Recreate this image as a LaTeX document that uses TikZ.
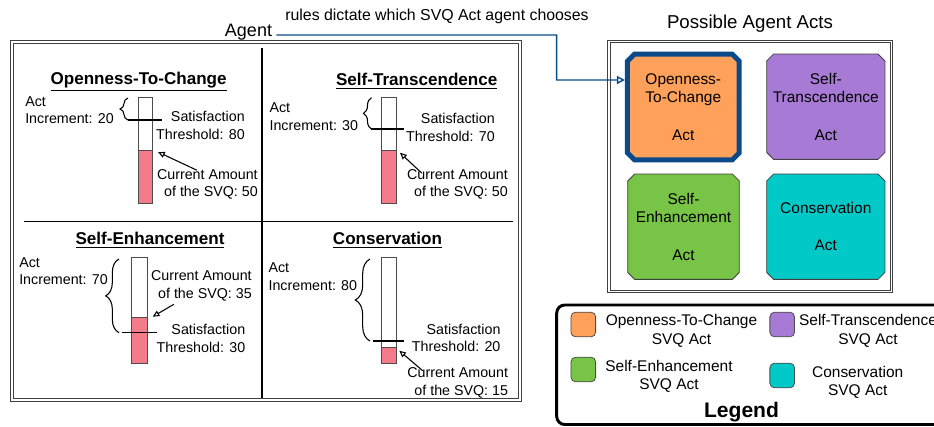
\documentclass[tikz,border=0pt]{standalone}
\usepackage{fontspec}
\setmainfont{Liberation Sans}
\usetikzlibrary{arrows.meta,decorations.pathreplacing,shapes.misc,calc}
\definecolor{orangeF}{HTML}{FFA15A}
\definecolor{purpleF}{HTML}{A77BD5}
\definecolor{greenF}{HTML}{78C446}
\definecolor{tealF}{HTML}{00C9C8}
\definecolor{pinkF}{HTML}{F47B8A}
\definecolor{blueF}{HTML}{0A4A8A}
\begin{document}
\begin{tikzpicture}[x=0.75pt,y=-0.75pt,
  qtxt/.style={inner sep=0pt,font=\fontsize{10.7}{13.1}\selectfont},
  qtitle/.style={inner sep=0pt,font=\bfseries\fontsize{12.8}{15}\selectfont},
  frame/.style={draw=black!75,line width=0.6pt},
  barbox/.style={draw=black!70,line width=0.6pt,fill=white},
  barfill/.style={draw=black!70,line width=0.6pt,fill=pinkF},
  thr/.style={draw=black,line width=0.8pt},
  brc/.style={decorate,decoration={brace,amplitude=#1},line width=0.8pt},
  ptr/.style={-{Triangle[open,length=5pt,width=4.5pt]},line width=0.8pt},
  act/.style={chamfered rectangle,chamfered rectangle xsep=2.6pt,chamfered rectangle ysep=2.6pt,
    draw=black!75,line width=0.6pt,inner sep=0pt,align=center,font=\fontsize{11.6}{14}\selectfont},
  swatch/.style={draw=black!70,line width=0.6pt,rounded corners=3.5pt,minimum size=18.5pt,inner sep=0pt},
  ltxt/.style={inner sep=0pt,align=center,font=\fontsize{11.6}{13.8}\selectfont},
  bline/.style={draw=blueF,line width=1.1pt}
]
\useasboundingbox (0,0) rectangle (934,426);

% ---------- left big frame ----------
\draw[frame] (10,40.5) rectangle (521,401);
\draw[frame] (13,43.3) rectangle (518.3,398.3);
\draw[thr,line width=0.9pt] (262,48) -- (262,398.3);
\draw[thr,line width=0.9pt] (24,221.7) -- (513,221.7);

% ---------- Agent ----------
\node[inner sep=3pt,font=\fontsize{13.5}{16}\selectfont] (agent) at (248.5,31.7) {Agent};
\node[inner sep=0pt,font=\fontsize{11.9}{14}\selectfont] (rules) at (437,16.7) {rules dictate which SVQ Act agent chooses};

% ---------- Quadrant 1 ----------
\node[qtitle] (t1) at (138.6,81.7) {\underline{Openness-To-Change}};
\node[qtxt,anchor=west,align=left] (ai1) at (25,110) {Act\\Increment: 20};
\draw[barbox] (138.3,97.7) rectangle (152.7,203.3);
\draw[barfill] (138.3,150.7) rectangle (152.7,203.3);
\coordinate (h1) at (158,152);
\draw[thr] (128,120) -- (162,120);
\draw[brc=6pt] (128,120) -- (128,98);
\node[qtxt,anchor=east,align=right] (s1) at (245,125.5) {Satisfaction\\Threshold: 80};
\node[qtxt,anchor=east,align=right] (c1) at (258,184.5) {Current Amount\\of the SVQ: 50};
\draw[ptr] ($(c1.north west)+(40,1)$) -- (h1);

% ---------- Quadrant 2 ----------
\node[qtitle] (t2) at (416.7,81) {\underline{Self-Transcendence}};
\node[qtxt,anchor=west,align=left] (ai2) at (269.3,116.5) {Act\\Increment: 30};
\draw[barbox] (381.7,97.7) rectangle (396,203.3);
\draw[barfill] (381.7,150.7) rectangle (396,203.3);
\coordinate (h2) at (400,152.7);
\draw[thr] (371,129) -- (404,129);
\draw[brc=6pt] (371.5,129) -- (371.5,97.7);
\node[qtxt,anchor=east,align=right] (s2) at (495,127.5) {Satisfaction\\Threshold: 70};
\node[qtxt,anchor=east,align=right] (c2) at (508,184.5) {Current Amount\\of the SVQ: 50};
\draw[ptr] ($(c2.north west)+(15,4)$) -- (h2);

% ---------- Quadrant 3 ----------
\node[qtitle] (t3) at (150,240) {\underline{Self-Enhancement}};
\node[qtxt,anchor=west,align=left] (ai3) at (19,271) {Act\\Increment: 70};
\draw[barbox] (131.7,257.3) rectangle (147.3,363.3);
\draw[barfill] (131.7,317.3) rectangle (147.3,363.3);
\coordinate (h3) at (152.7,316.7);
\draw[thr] (121.7,332.7) -- (156.7,332.7);
\draw[brc=10pt] (119,332.7) -- (119,259);
\node[qtxt,anchor=east,align=right] (c3) at (252,286) {Current Amount\\of the SVQ: 35};
\node[qtxt,anchor=east,align=right] (s3) at (245.5,338.3) {Satisfaction\\Threshold: 30};
\draw[ptr] ($(c3.south west)+(23,3)$) -- (h3);

% ---------- Quadrant 4 ----------
\node[qtitle] (t4) at (387.5,240) {\underline{Conservation}};
\node[qtxt,anchor=west,align=left] (ai4) at (268.3,276.7) {Act\\Increment: 80};
\draw[barbox] (381,257.3) rectangle (396,363.3);
\draw[barfill] (381,347.7) rectangle (396,363.3);
\coordinate (h4) at (399.3,350.7);
\draw[thr] (372.7,341) -- (404,341);
\draw[brc=11pt] (370,341) -- (370,259);
\node[qtxt,anchor=east,align=right] (s4) at (500.7,337.7) {Satisfaction\\Threshold: 20};
\node[qtxt,anchor=east,align=right] (c4) at (508.3,383) {Current Amount\\of the SVQ: 15};
\draw[ptr] ($(c4.north west)+(15.6,3)$) -- (h4);

% ---------- Possible Agent Acts ----------
\node[inner sep=0pt,font=\fontsize{14}{16}\selectfont] (pat) at (750,24) {Possible Agent Acts};
\draw[frame] (607.5,40) rectangle (892.7,292.7);
\draw[frame] (610.3,42.7) rectangle (890,290);

\node[act,fill=orangeF,draw=blueF,line width=3.75pt,minimum width=83.8pt,minimum height=79.2pt] (ote) at (683.3,107) {Openness-\\To-Change\\[14pt]Act};
\node[act,fill=purpleF,minimum width=88.7pt,minimum height=79pt] (ste) at (825.8,106.7) {Self-\\Transcendence\\[14pt]Act};
\node[act,fill=greenF,minimum width=83.7pt,minimum height=79pt] (sen) at (683.5,226.7) {Self-\\Enhancement\\[14pt]Act};
\node[act,fill=tealF,minimum width=88.7pt,minimum height=79pt] (con) at (825.8,226.7) {Conservation\\[14pt]Act};

% agent arrow
\coordinate (ay) at (0,80);
\draw[bline,-{Triangle[open,length=6pt,width=6pt]}] ($(agent.east)+(0,3.3)$) -- (556.7,35) |- (ote.west |- ay);

% ---------- Legend ----------
\draw[line width=2.2pt,rounded corners=6pt] (556.7,305) rectangle (980,424.5);
\node[swatch,fill=orangeF] (lo) at (583.3,324.5) {};
\node[swatch,fill=purpleF] (lp) at (782.2,324.5) {};
\node[swatch,fill=greenF] (lg) at (583.3,369.5) {};
\node[swatch,fill=tealF] (lt) at (782.2,375.5) {};
\node[ltxt] (lot) at (681.5,331) {Openness-To-Change\\SVQ Act};
\node[ltxt] (lpt) at (868,331) {Self-Transcendence\\SVQ Act};
\node[ltxt] (lgt) at (669,376.2) {Self-Enhancement\\SVQ Act};
\node[ltxt] (ltt) at (857.7,382.5) {Conservation\\SVQ Act};
\node[inner sep=0pt,font=\bfseries\fontsize{15.8}{18}\selectfont] (leg) at (741.5,411.7) {Legend};
\end{tikzpicture}
\end{document}
